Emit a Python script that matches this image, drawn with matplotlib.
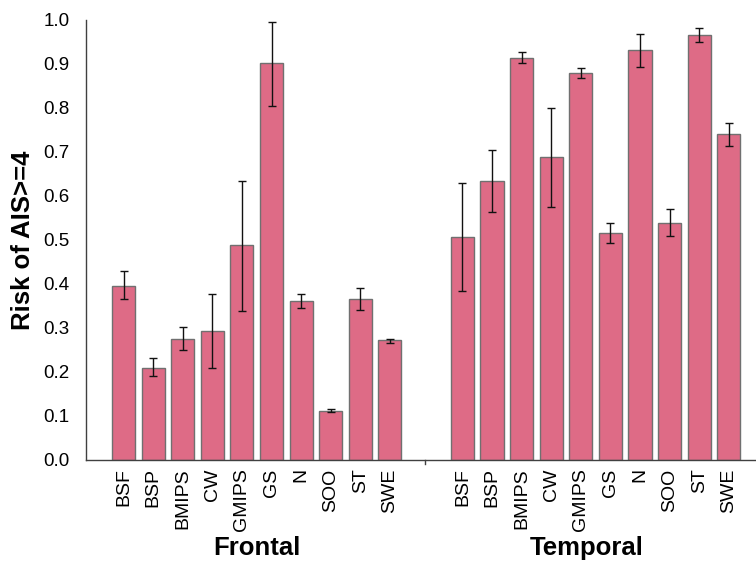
import numpy as np
import matplotlib.pyplot as plt

plt.rcParams['font.family'] = ['Liberation Sans', 'DejaVu Sans']

# categories (same for both regions)
labels = ['BSF', 'BSP', 'BMIPS', 'CW', 'GMIPS', 'GS', 'N', 'SOO', 'ST', 'SWE']

# Frontal: mean, lower, upper
frontal = [0.395, 0.209, 0.276, 0.294, 0.488, 0.902, 0.361, 0.111, 0.367, 0.272]
frontal_lo = [0.365, 0.191, 0.249, 0.209, 0.339, 0.804, 0.345, 0.108, 0.342, 0.267]
frontal_hi = [0.429, 0.231, 0.302, 0.378, 0.635, 0.995, 0.377, 0.115, 0.391, 0.276]

# Temporal
temporal = [0.506, 0.635, 0.914, 0.688, 0.880, 0.516, 0.932, 0.539, 0.965, 0.740]
temporal_lo = [0.385, 0.564, 0.902, 0.574, 0.868, 0.494, 0.894, 0.508, 0.949, 0.713]
temporal_hi = [0.630, 0.704, 0.927, 0.801, 0.891, 0.538, 0.968, 0.571, 0.982, 0.767]

groups = ['Frontal', 'Temporal']

bar_color = '#DE6B86'
edge_color = '#707070'

x_f = np.arange(len(labels))
x_t = np.arange(len(labels)) + 11.45

fig = plt.figure(figsize=(7.56, 5.67), dpi=100)
ax = fig.add_axes([86 / 756, 1 - 460 / 567, 1 - 86 / 756, 440 / 567])

for xs, vals, lo, hi in [(x_f, frontal, frontal_lo, frontal_hi),
                         (x_t, temporal, temporal_lo, temporal_hi)]:
    vals = np.array(vals)
    yerr = [vals - np.array(lo), np.array(hi) - vals]
    ax.bar(xs, vals, width=0.78, color=bar_color, edgecolor=edge_color,
           linewidth=1.0, zorder=2)
    ax.errorbar(xs, vals, yerr=yerr, fmt='none', ecolor='#111111',
                elinewidth=1.0, capsize=3, capthick=1.0, zorder=3)

ax.set_xlim(-1.27, 21.37)
ax.set_ylim(0, 1.0)
ax.set_yticks(np.arange(0, 1.01, 0.1))
ax.set_yticklabels([f'{v:.1f}' for v in np.arange(0, 1.01, 0.1)], fontsize=13.5)
ax.tick_params(axis='y', length=0, pad=12)

ax.set_xticks(np.concatenate([x_f, x_t]))
ax.set_xticklabels(labels + labels, rotation=90, fontsize=14)
ax.tick_params(axis='x', length=0, pad=6)

# small separator tick between the two groups
ax.plot([10.2, 10.2], [0, -0.008], color='#404040', lw=1, clip_on=False)

for s in ['top', 'right']:
    ax.spines[s].set_visible(False)
for s in ['left', 'bottom']:
    ax.spines[s].set_color('#404040')
    ax.spines[s].set_linewidth(1.0)

ax.set_ylabel('Risk of AIS>=4', fontsize=18.5, fontweight='bold', labelpad=6)

ax.text(4.5, -0.2, groups[0], transform=ax.get_xaxis_transform(),
        ha='center', va='center', fontsize=18.5, fontweight='bold')
ax.text(15.65, -0.2, groups[1], transform=ax.get_xaxis_transform(),
        ha='center', va='center', fontsize=18.5, fontweight='bold')

fig.savefig('out.png', dpi=100)
